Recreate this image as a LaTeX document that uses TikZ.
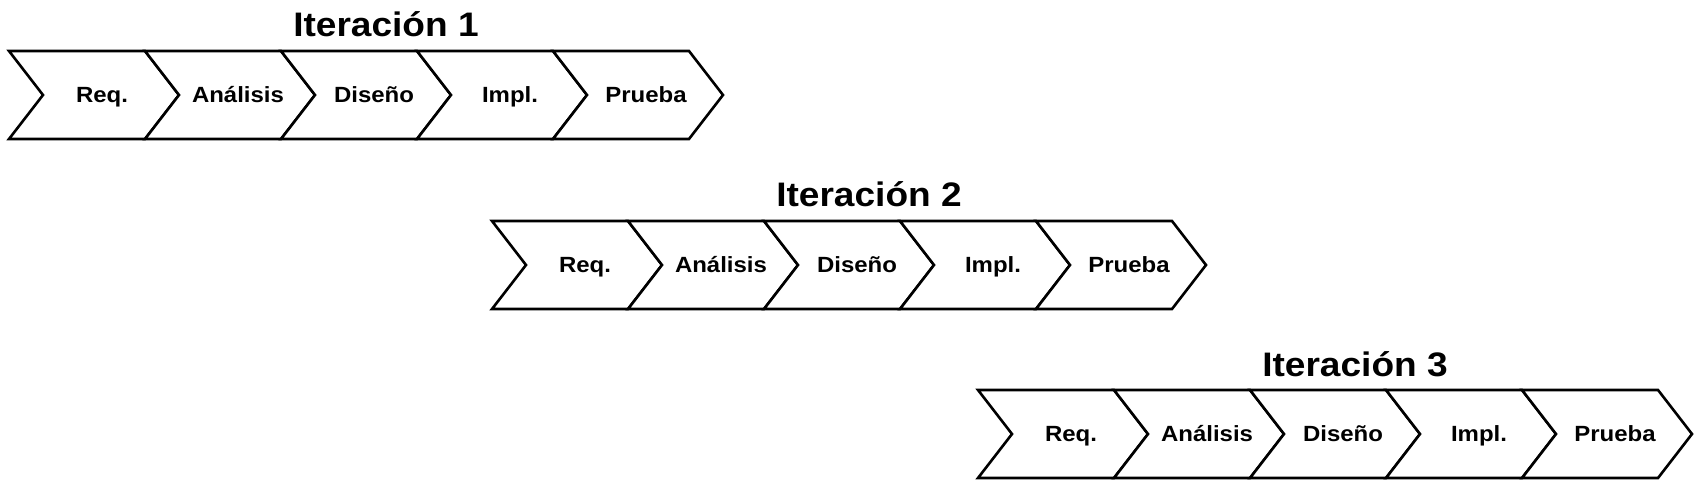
\documentclass[tikz,border=0pt]{standalone}
\usepackage{fontspec}
\setmainfont{Liberation Sans}[FakeStretch=1.09]
\usetikzlibrary{positioning}

% one phase chevron: name, left x, top y, label
\newcommand{\Fase}[4]{%
  \draw[fase] (#2,#3) -- ++(136,0) -- ++(34,-44) -- ++(-34,-44) -- ++(-136,0) -- ++(34,44) -- cycle;
  \node[faselabel] (#1) at (#2+93,#3-44) {#4};
}

\begin{document}
\begin{tikzpicture}[
    x=1pt, y=1pt,
    fase/.style={draw=black, line width=2.6pt, fill=white},
    faselabel/.style={font=\fontsize{22}{26}\selectfont\bfseries, inner sep=0pt, text height=15.7pt, text depth=0pt},
    titulo/.style={font=\fontsize{34}{40}\selectfont\bfseries, anchor=base, inner sep=0pt}
]
    \useasboundingbox (0,0) rectangle (1696,496);

    % Iteration 1
    \node[titulo] (it1) at (386,459) {Iteración 1};
    \Fase{r1req}{9}{445}{Req.}
    \Fase{r1ana}{145}{445}{Análisis}
    \Fase{r1dis}{281}{445}{Diseño}
    \Fase{r1imp}{417}{445}{Impl.}
    \Fase{r1pru}{553}{445}{Prueba}

    % Iteration 2
    \node[titulo] (it2) at (869,289) {Iteración 2};
    \Fase{r2req}{492}{275}{Req.}
    \Fase{r2ana}{628}{275}{Análisis}
    \Fase{r2dis}{764}{275}{Diseño}
    \Fase{r2imp}{900}{275}{Impl.}
    \Fase{r2pru}{1036}{275}{Prueba}

    % Iteration 3
    \node[titulo] (it3) at (1355,120) {Iteración 3};
    \Fase{r3req}{978}{106}{Req.}
    \Fase{r3ana}{1114}{106}{Análisis}
    \Fase{r3dis}{1250}{106}{Diseño}
    \Fase{r3imp}{1386}{106}{Impl.}
    \Fase{r3pru}{1522}{106}{Prueba}

\end{tikzpicture}
\end{document}
